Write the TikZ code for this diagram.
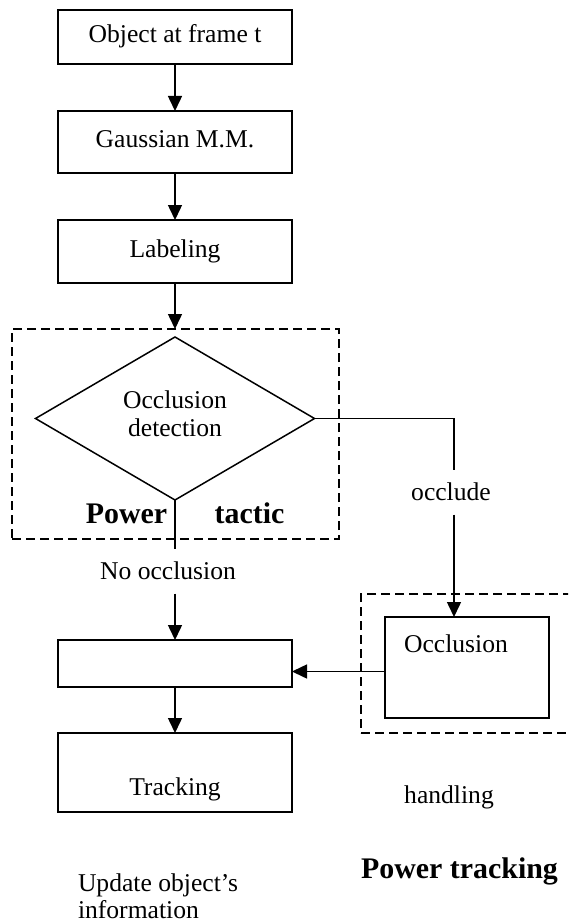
\documentclass[tikz,border=0pt]{standalone}
\usepackage{fontspec}
\setmainfont{Liberation Serif}
\usetikzlibrary{arrows.meta,shapes.geometric,calc}
\begin{document}
\begin{tikzpicture}[x=1pt,y=-1pt,
  every node/.style={inner sep=0pt,outer sep=0pt,font=\fontsize{25.6}{28}\selectfont},
  stage/.style={draw,line width=1.5pt,rectangle,minimum width=234pt,text height=17.5pt,text depth=6.4pt},
  groupbox/.style={draw,line width=1.5pt,dash pattern=on 9pt off 5pt},
  grouplabel/.style={font=\fontsize{29.9}{34}\selectfont\bfseries},
  flow/.style={line width=1.5pt,-{Triangle[length=15pt,width=14pt]}},
  link/.style={line width=1.5pt}]
\useasboundingbox (0,0) rectangle (568,923);
\clip (0,0) rectangle (568,923);

% main chain
\node[stage,minimum height=54pt] (obj) at (175,37) {Object at frame t};
\node[stage,minimum height=62pt] (gmm) at (175,142) {Gaussian M.M.};
\node[stage,minimum height=63pt] (lab) at (175,251.5) {Labeling};

% power tactic group
\node[groupbox,minimum width=327pt,minimum height=210pt] (tacbox) at (175.5,434) {};
\node[draw,diamond,line width=1.5pt,minimum width=279pt,minimum height=163pt,aspect=1.71] (dec) at (175,418.5) {};
\node[align=center] (dectxt) at (175,414) {Occlusion\\detection};
\node[grouplabel,anchor=base] (pw1) at (126.5,523) {Power};
\node[grouplabel,anchor=base] (pw2) at (249.5,523) {tactic};

\node[minimum height=45pt] (noocc) at (168,571) {No occlusion};

% update and tracking
\node[stage,minimum height=47pt] (upd) at (175,663.5) {};
\node[stage,minimum height=79pt] (trk) at (175,772.5) {};
\node[anchor=base] (trktxt) at (175,795) {Tracking};
\node[anchor=north west,align=left,font=\fontsize{25.6}{27}\selectfont] (updtxt) at (78,874) {Update object’s\\information};

% occlusion handling group
\node[groupbox,minimum width=239pt,minimum height=139pt] (hndbox) at (480.5,663.5) {};
\node[draw,line width=1.5pt,minimum width=164pt,minimum height=101pt] (occl) at (467,667.5) {};
\node[anchor=base] (occltxt) at (456,652) {Occlusion};
\node[minimum height=45pt] (occlude) at (451,492) {occlude};
\node[anchor=base] (hnd) at (449,803) {handling};
\node[grouplabel,anchor=base] (pwt) at (459.5,878) {Power tracking};

% connectors
\draw[flow] (obj) -- (gmm);
\draw[flow] (gmm) -- (lab);
\draw[flow] (lab.south) -- (lab.south |- tacbox.north);
\draw[link] (dec.south) -- (dec.south |- noocc.north);
\draw[flow] (dec.south |- noocc.south) -- (upd.north);
\coordinate (bend) at (454,419);
\draw[link] (dec.east) -- (dec.east -| bend) -- (bend |- occlude.north);
\draw[flow] (bend |- occlude.south) -- (bend |- occl.north);
\draw[flow] ([yshift=-4pt]occl.west) -- ([yshift=-4pt]occl.west -| upd.east);
\draw[flow] (upd) -- (trk);
\end{tikzpicture}
\end{document}
